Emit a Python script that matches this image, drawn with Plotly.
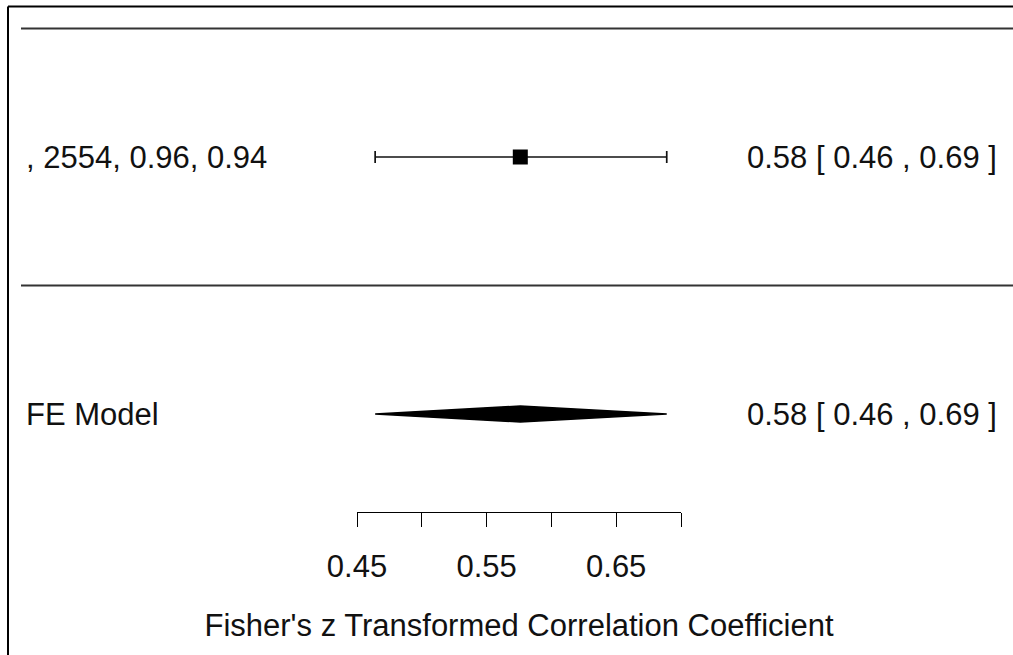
import plotly.graph_objects as go

# ---- data ----
study_labels = [", 2554, 0.96, 0.94"]
study_est = [0.576]
study_lo = [0.464]
study_hi = [0.689]
study_rows = [1]

fe_label = "FE Model"
fe_est = 0.576
fe_lo = 0.464
fe_hi = 0.689
fe_row = -1

tick_vals = [0.45, 0.50, 0.55, 0.60, 0.65, 0.70]
tick_text = ["0.45", "", "0.55", "", "0.65", ""]
x_title = "Fisher's z Transformed Correlation Coefficient"

# ---- layout constants ----
W, H = 1013, 655
FONT = "Liberation Sans, Arial, sans-serif"
FS = 31
ROW_PX = 128.5
ROW1_PX = 157.0
TXT = "#111111"


def row_of(px):
    return 1 + (ROW1_PX - px) / ROW_PX


def fmt(e, l, h):
    return f"{e:.2f} [ {l:.2f} , {h:.2f} ]"


fig = go.Figure()

# study CI lines + whisker caps + point
for lab, e, l, h, r in zip(study_labels, study_est, study_lo, study_hi, study_rows):
    fig.add_trace(go.Scatter(
        x=[l, h], y=[r, r], mode="lines",
        line=dict(color="#111111", width=1.7), hoverinfo="skip", showlegend=False))
    cap = 6 / ROW_PX
    for xv in (l, h):
        fig.add_trace(go.Scatter(
            x=[xv, xv], y=[r - cap, r + cap], mode="lines",
            line=dict(color="#111111", width=1.7), hoverinfo="skip", showlegend=False))
    fig.add_trace(go.Scatter(
        x=[e], y=[r], mode="markers",
        marker=dict(symbol="square", size=15, color="black"),
        hoverinfo="skip", showlegend=False))
    fig.add_annotation(x=24 / W, xref="paper", y=r, yref="y", text=lab,
                       showarrow=False, xanchor="left", yanchor="middle",
                       font=dict(family=FONT, size=FS, color=TXT))
    fig.add_annotation(x=999 / W, xref="paper", y=r, yref="y", text=fmt(e, l, h),
                       showarrow=False, xanchor="right", yanchor="middle",
                       font=dict(family=FONT, size=FS, color=TXT))

# FE diamond
dh = 8 / ROW_PX
fig.add_trace(go.Scatter(
    x=[fe_lo, fe_est, fe_hi, fe_est, fe_lo],
    y=[fe_row, fe_row + dh, fe_row, fe_row - dh, fe_row],
    mode="lines", fill="toself", fillcolor="black",
    line=dict(color="black", width=1.5), hoverinfo="skip", showlegend=False))
fig.add_annotation(x=24 / W, xref="paper", y=fe_row, yref="y", text=fe_label,
                   showarrow=False, xanchor="left", yanchor="middle",
                   font=dict(family=FONT, size=FS, color=TXT))
fig.add_annotation(x=999 / W, xref="paper", y=fe_row, yref="y",
                   text=fmt(fe_est, fe_lo, fe_hi),
                   showarrow=False, xanchor="right", yanchor="middle",
                   font=dict(family=FONT, size=FS, color=TXT))

# separator lines (rows k+1 and 0)
for rr in (max(study_rows) + 1, 0):
    fig.add_shape(type="line", xref="paper", yref="y", x0=21 / W, x1=1.0,
                  y0=rr, y1=rr, line=dict(color="#333333", width=2))

# outer box (top and left edges visible)
fig.add_shape(type="line", xref="paper", yref="paper", x0=8 / W, x1=1.0,
              y0=1 - 6.5 / H, y1=1 - 6.5 / H, line=dict(color="black", width=2))
fig.add_shape(type="line", xref="paper", yref="paper", x0=8 / W, x1=8 / W,
              y0=0, y1=1 - 6.5 / H, line=dict(color="black", width=2))

AXIS_PX = 512
fig.update_layout(
    width=W, height=H,
    margin=dict(l=0, r=0, t=0, b=0, pad=0, autoexpand=False),
    paper_bgcolor="white", plot_bgcolor="white",
    xaxis=dict(
        domain=[357 / W, 681 / W], range=[0.45, 0.70],
        tickmode="array", tickvals=tick_vals, ticktext=tick_text,
        ticks="outside", ticklen=14, tickwidth=1.4, tickcolor="black",
        showline=True, linecolor="black", linewidth=1.4,
        showgrid=False, zeroline=False, automargin=False,
        anchor="free", position=(H - AXIS_PX) / H,
        tickfont=dict(family=FONT, size=FS, color=TXT),
        ticklabelstandoff=13,
        title=dict(text=x_title, standoff=30,
                   font=dict(family=FONT, size=FS, color=TXT)),
    ),
    yaxis=dict(range=[row_of(H), row_of(0)], visible=False,
               domain=[0, 1], fixedrange=True, automargin=False),
)

fig.write_html("out.html")
